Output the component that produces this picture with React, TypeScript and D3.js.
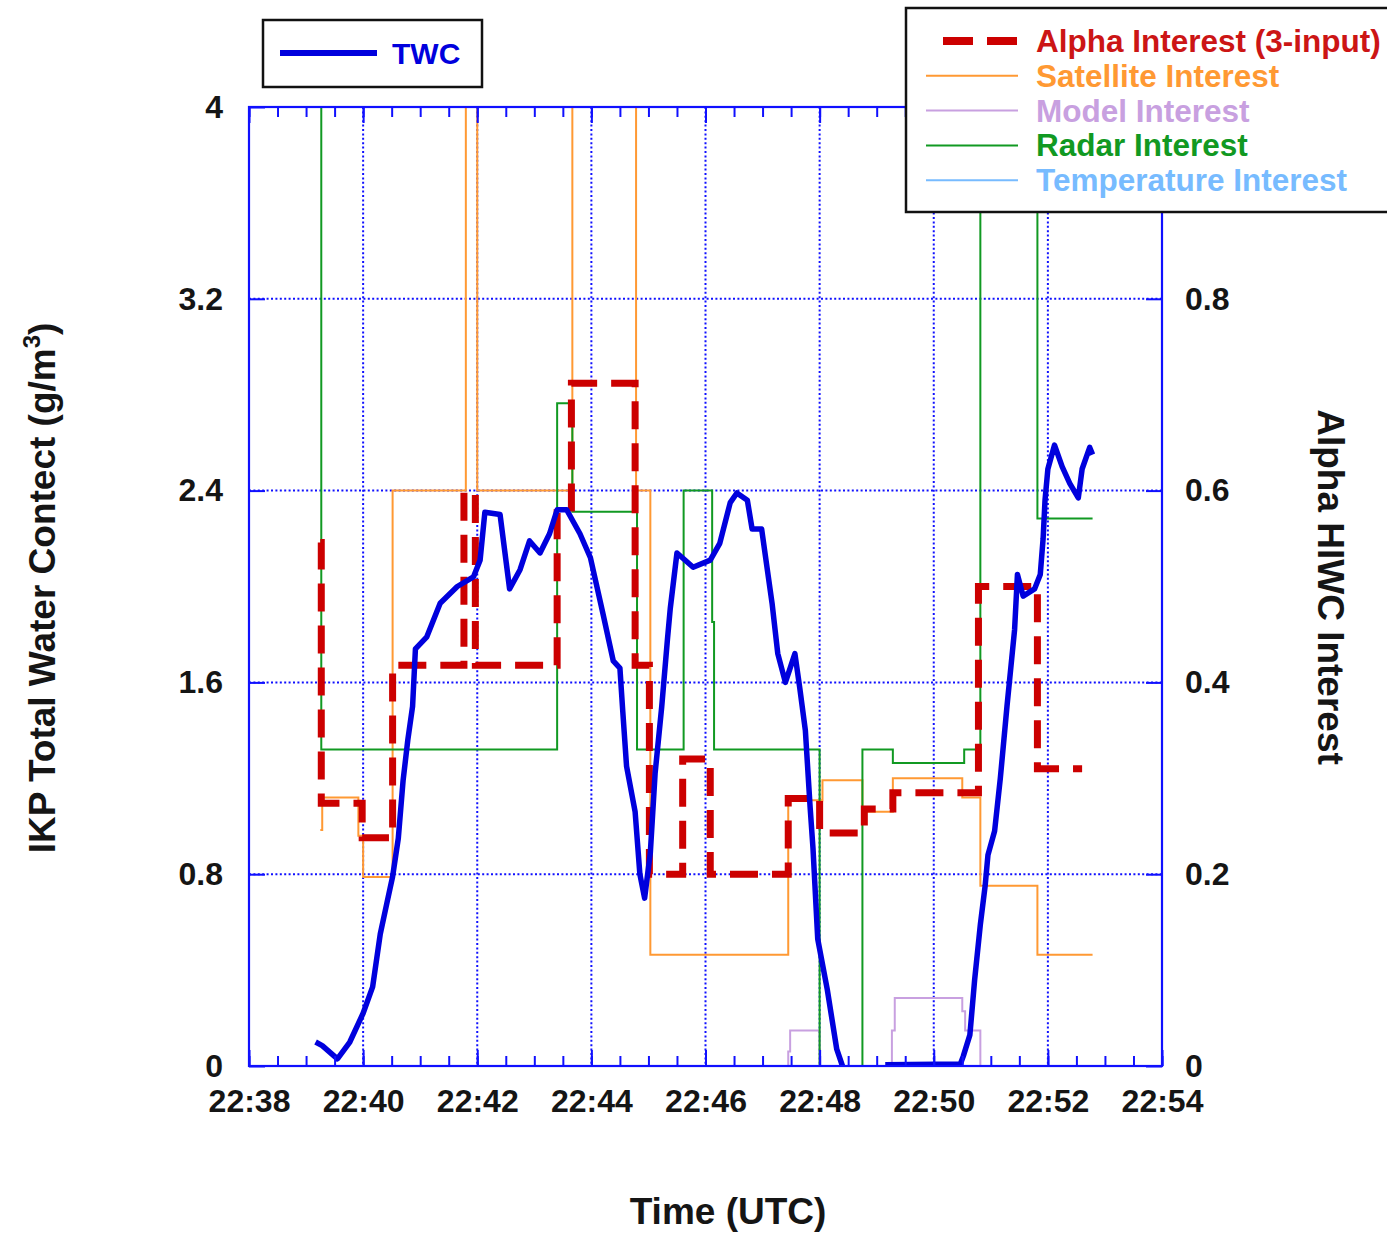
import React, { useRef, useEffect } from "react";
import * as d3 from "d3";

// IKP total water content (g/m^3) on the left axis; null marks a data gap
const twc: [string, number | null][] = [
  ["22:39:10", 0.1], ["22:39:17", 0.085], ["22:39:33", 0.03], ["22:39:46", 0.1],
  ["22:40:00", 0.22], ["22:40:10", 0.33], ["22:40:18", 0.55], ["22:40:25", 0.68],
  ["22:40:31", 0.79], ["22:40:37", 0.95], ["22:40:42", 1.19], ["22:40:47", 1.36],
  ["22:40:52", 1.5], ["22:40:55", 1.74], ["22:41:07", 1.79], ["22:41:21", 1.93],
  ["22:41:39", 2.0], ["22:41:56", 2.04], ["22:42:03", 2.11], ["22:42:08", 2.31],
  ["22:42:24", 2.3], ["22:42:34", 1.99], ["22:42:45", 2.07], ["22:42:55", 2.19],
  ["22:43:06", 2.14], ["22:43:16", 2.22], ["22:43:24", 2.32], ["22:43:34", 2.32],
  ["22:43:48", 2.22], ["22:43:59", 2.12], ["22:44:12", 1.89], ["22:44:23", 1.69],
  ["22:44:30", 1.66], ["22:44:33", 1.48], ["22:44:37", 1.25], ["22:44:46", 1.06],
  ["22:44:51", 0.8], ["22:44:56", 0.7], ["22:45:02", 0.89], ["22:45:07", 1.22],
  ["22:45:14", 1.5], ["22:45:20", 1.78], ["22:45:23", 1.91], ["22:45:30", 2.14],
  ["22:45:47", 2.08], ["22:46:05", 2.11], ["22:46:15", 2.18], ["22:46:26", 2.35],
  ["22:46:33", 2.39], ["22:46:44", 2.36], ["22:46:49", 2.24], ["22:46:59", 2.24],
  ["22:47:05", 2.07], ["22:47:10", 1.93], ["22:47:16", 1.72], ["22:47:24", 1.6],
  ["22:47:29", 1.66], ["22:47:34", 1.72], ["22:47:39", 1.58], ["22:47:45", 1.4],
  ["22:47:50", 1.08], ["22:47:53", 0.91], ["22:47:58", 0.53], ["22:48:08", 0.32],
  ["22:48:18", 0.07], ["22:48:24", 0], ["22:48:45", null],
  ["22:49:09", 0.005], ["22:50:28", 0.008], ["22:50:31", 0.04], ["22:50:38", 0.13],
  ["22:50:43", 0.36], ["22:50:49", 0.59], ["22:50:54", 0.75], ["22:50:57", 0.88],
  ["22:51:04", 0.98], ["22:51:10", 1.2], ["22:51:17", 1.5], ["22:51:22", 1.7],
  ["22:51:25", 1.82], ["22:51:28", 2.05], ["22:51:34", 1.96], ["22:51:46", 1.99],
  ["22:51:52", 2.05], ["22:51:55", 2.2], ["22:51:57", 2.36], ["22:52:00", 2.49],
  ["22:52:07", 2.59], ["22:52:15", 2.5], ["22:52:23", 2.43], ["22:52:32", 2.37],
  ["22:52:36", 2.49], ["22:52:44", 2.58], ["22:52:47", 2.55],
];

// interest fields (right axis, 0..1), each value holds until the next time
const alphaInterest: [string, number][] = [
  ["22:39:15", 0.546], ["22:39:16", 0.274], ["22:39:59", 0.238], ["22:40:31", 0.418],
  ["22:41:46", 0.598], ["22:41:58", 0.418], ["22:43:24", 0.577], ["22:43:39", 0.712],
  ["22:44:46", 0.418], ["22:45:01", 0.2], ["22:45:36", 0.32], ["22:46:05", 0.2],
  ["22:47:27", 0.279], ["22:48:00", 0.243], ["22:48:47", 0.268], ["22:49:17", 0.285],
  ["22:50:47", 0.5], ["22:51:49", 0.31], ["22:52:36", 0.31],
];

const satelliteInterest: [string, number][] = [
  ["22:39:15", 0.246], ["22:39:17", 0.28], ["22:39:55", 0.24], ["22:40:00", 0.197],
  ["22:40:31", 0.6], ["22:41:48", 1.2], ["22:42:00", 0.6], ["22:43:40", 1.2],
  ["22:44:47", 0.6], ["22:45:02", 0.116], ["22:47:27", 0.277], ["22:48:03", 0.298],
  ["22:48:45", 0.265], ["22:49:17", 0.3], ["22:50:30", 0.28], ["22:50:49", 0.188],
  ["22:51:49", 0.116], ["22:52:47", 0.116],
];

const modelInterest: [string, number][] = [
  ["22:39:15", 0], ["22:47:27", 0.015], ["22:47:29", 0.037], ["22:48:00", 0],
  ["22:49:16", 0.037], ["22:49:19", 0.071], ["22:50:30", 0.057], ["22:50:33", 0.037],
  ["22:50:49", 0], ["22:52:47", 0],
];

const radarInterest: [string, number][] = [
  ["22:39:15", 1.0], ["22:39:16", 0.33], ["22:43:24", 0.691], ["22:43:40", 0.578],
  ["22:44:48", 0.33], ["22:45:37", 0.6], ["22:46:07", 0.463], ["22:46:09", 0.33],
  ["22:48:00", 0], ["22:48:45", 0.33], ["22:49:17", 0.316], ["22:50:32", 0.33],
  ["22:50:49", 1.0], ["22:51:49", 0.571], ["22:52:47", 0.571],
];

const temperatureInterest: [string, number][] = [
  ["22:39:15", 1.0], ["22:52:47", 1.0],
];

const leftTicks = [0, 0.8, 1.6, 2.4, 3.2, 4];
const rightTicks = [0, 0.2, 0.4, 0.6, 0.8, 1];

const FONT = "'Liberation Sans', Arial, Helvetica, sans-serif";
const AXIS = "#1010ff";

const parseTime = d3.timeParse("%H:%M:%S");

const App = () => {
  const svgRef = useRef<SVGSVGElement>(null);

  useEffect(() => {
    const svg = d3.select(svgRef.current);
    svg.selectAll("*").remove();

    const left = 249, right = 1162, top = 107, bottom = 1066;

    const x = d3
      .scaleTime()
      .domain([parseTime("22:38:00"), parseTime("22:54:00")] as Date[])
      .range([left, right]);
    const yL = d3.scaleLinear().domain([0, 4]).range([bottom, top]);
    const yR = d3.scaleLinear().domain([0, 1]).range([bottom, top]);

    svg
      .append("defs")
      .append("clipPath")
      .attr("id", "plot-clip")
      .append("rect")
      .attr("x", left)
      .attr("y", top)
      .attr("width", right - left)
      .attr("height", bottom - top);

    // dotted grid
    const grid = svg
      .append("g")
      .attr("stroke", AXIS)
      .attr("stroke-width", 2)
      .attr("stroke-dasharray", "2,2.4");
    grid
      .selectAll(".gx")
      .data(x.ticks(d3.timeMinute.every(2) as any).slice(1, -1))
      .join("line")
      .attr("class", "gx")
      .attr("x1", (d) => x(d))
      .attr("x2", (d) => x(d))
      .attr("y1", top)
      .attr("y2", bottom);
    grid
      .selectAll(".gy")
      .data(leftTicks.slice(1, -1))
      .join("line")
      .attr("class", "gy")
      .attr("x1", left)
      .attr("x2", right)
      .attr("y1", (d) => yL(d))
      .attr("y2", (d) => yL(d));

    const stepLine = d3
      .line<[string, number]>()
      .x((d) => x(parseTime(d[0]) as Date))
      .y((d) => yR(d[1]))
      .curve(d3.curveStepAfter);

    const series = [
      { data: modelInterest, color: "#c8a0e0", width: 2, dash: null },
      { data: temperatureInterest, color: "#77bbff", width: 1.5, dash: null },
      { data: satelliteInterest, color: "#ff9933", width: 2, dash: null },
      { data: radarInterest, color: "#119922", width: 2, dash: null },
      { data: alphaInterest, color: "#cc0000", width: 7, dash: "28,14" },
    ];

    const plot = svg.append("g").attr("clip-path", "url(#plot-clip)");
    series.forEach((s) => {
      plot
        .append("path")
        .datum(s.data)
        .attr("fill", "none")
        .attr("stroke", s.color)
        .attr("stroke-width", s.width)
        .attr("stroke-dasharray", s.dash)
        .attr("d", stepLine);
    });

    const twcLine = d3
      .line<[string, number | null]>()
      .defined((d) => d[1] != null)
      .x((d) => x(parseTime(d[0]) as Date))
      .y((d) => yL(d[1] as number));

    plot
      .append("path")
      .datum(twc)
      .attr("fill", "none")
      .attr("stroke", "#0000dd")
      .attr("stroke-width", 5.5)
      .attr("stroke-linejoin", "round")
      .attr("d", twcLine);

    const styleAxis = (g) => {
      g.select(".domain").remove();
      g.selectAll("line").attr("stroke", AXIS).attr("stroke-width", 2);
      g.selectAll("text")
        .attr("fill", "#151515")
        .attr("font-family", FONT)
        .attr("font-weight", "bold")
        .attr("font-size", 32);
    };

    const fmtTime = d3.timeFormat("%H:%M");
    const fmtNum = d3.format("~g");

    // bottom
    svg
      .append("g")
      .attr("transform", `translate(0,${bottom})`)
      .call(d3.axisBottom(x).ticks(d3.timeSecond.every(30) as any).tickSize(-10).tickFormat(() => ""))
      .call(styleAxis);
    svg
      .append("g")
      .attr("transform", `translate(0,${bottom})`)
      .call(
        d3
          .axisBottom(x)
          .ticks(d3.timeMinute.every(2) as any)
          .tickSize(-16)
          .tickPadding(23)
          .tickFormat((d) => fmtTime(d as Date))
      )
      .call(styleAxis);

    // top
    svg
      .append("g")
      .attr("transform", `translate(0,${top})`)
      .call(d3.axisTop(x).ticks(d3.timeSecond.every(30) as any).tickSize(-10).tickFormat(() => ""))
      .call(styleAxis);
    svg
      .append("g")
      .attr("transform", `translate(0,${top})`)
      .call(d3.axisTop(x).ticks(d3.timeMinute.every(2) as any).tickSize(-16).tickFormat(() => ""))
      .call(styleAxis);

    // left
    svg
      .append("g")
      .attr("transform", `translate(${left},0)`)
      .call(
        d3
          .axisLeft(yL)
          .tickValues(leftTicks)
          .tickSize(-16)
          .tickPadding(26)
          .tickFormat((d) => fmtNum(d as number))
      )
      .call(styleAxis);

    // right (the top label sits behind the legend box, so it is left empty)
    svg
      .append("g")
      .attr("transform", `translate(${right},0)`)
      .call(
        d3
          .axisRight(yR)
          .tickValues(rightTicks)
          .tickSize(-16)
          .tickPadding(23)
          .tickFormat((d) => ((d as number) >= 1 ? "" : fmtNum(d as number)))
      )
      .call(styleAxis);

    svg
      .append("rect")
      .attr("x", left)
      .attr("y", top)
      .attr("width", right - left)
      .attr("height", bottom - top)
      .attr("fill", "none")
      .attr("stroke", AXIS)
      .attr("stroke-width", 2.2);

    // axis titles
    const title = (sel) =>
      sel
        .attr("font-family", FONT)
        .attr("font-weight", "bold")
        .attr("font-size", 37)
        .attr("fill", "#151515")
        .attr("text-anchor", "middle");

    svg.append("text").attr("x", 728).attr("y", 1224).text("Time (UTC)").call(title);

    const lt = svg
      .append("text")
      .attr("transform", "translate(55,588) rotate(-90)")
      .call(title);
    lt.append("tspan").text("IKP Total Water Contect (g/m");
    lt.append("tspan").attr("dy", -15).attr("font-size", 24).text("3");
    lt.append("tspan").attr("dy", 15).text(")");

    svg
      .append("text")
      .attr("transform", "translate(1318,587) rotate(90)")
      .text("Alpha HIWC Interest")
      .call(title);

    // TWC legend
    const lg1 = svg.append("g");
    lg1
      .append("rect")
      .attr("x", 263)
      .attr("y", 20)
      .attr("width", 219)
      .attr("height", 67)
      .attr("fill", "white")
      .attr("stroke", "#111")
      .attr("stroke-width", 2.5);
    lg1
      .append("line")
      .attr("x1", 280)
      .attr("x2", 377)
      .attr("y1", 53)
      .attr("y2", 53)
      .attr("stroke", "#0000dd")
      .attr("stroke-width", 6);
    lg1
      .append("text")
      .attr("x", 392)
      .attr("y", 64)
      .attr("font-family", FONT)
      .attr("font-weight", "bold")
      .attr("font-size", 30)
      .attr("fill", "#0000dd")
      .text("TWC");

    // interest legend
    const items = [
      { label: "Alpha Interest (3-input)", color: "#cc0000", text: "#cc1515", width: 8, dash: "30,14", x1: 943 },
      { label: "Satellite Interest", color: "#ff9933", text: "#ff9933", width: 2, dash: null, x1: 926 },
      { label: "Model Interest", color: "#c8a0e0", text: "#c8a0e0", width: 2, dash: null, x1: 926 },
      { label: "Radar Interest", color: "#119922", text: "#119922", width: 2, dash: null, x1: 926 },
      { label: "Temperature Interest", color: "#77bbff", text: "#77bbff", width: 2, dash: null, x1: 926 },
    ];
    const lg2 = svg.append("g");
    lg2
      .append("rect")
      .attr("x", 906)
      .attr("y", 8)
      .attr("width", 520)
      .attr("height", 204)
      .attr("fill", "white")
      .attr("stroke", "#111")
      .attr("stroke-width", 2.5);
    items.forEach((it, i) => {
      const cy = 41 + i * 34.8;
      lg2
        .append("line")
        .attr("x1", it.x1)
        .attr("x2", 1018)
        .attr("y1", cy)
        .attr("y2", cy)
        .attr("stroke", it.color)
        .attr("stroke-width", it.width)
        .attr("stroke-dasharray", it.dash);
      lg2
        .append("text")
        .attr("x", 1036)
        .attr("y", cy + 11)
        .attr("font-family", FONT)
        .attr("font-weight", "bold")
        .attr("font-size", 31.5)
        .attr("fill", it.text)
        .text(it.label);
    });
  }, []);

  return (
    <svg
      ref={svgRef}
      width={1387}
      height={1234}
      style={{ position: "absolute", left: 0, top: 0, background: "white" }}
    />
  );
};

export default App;
